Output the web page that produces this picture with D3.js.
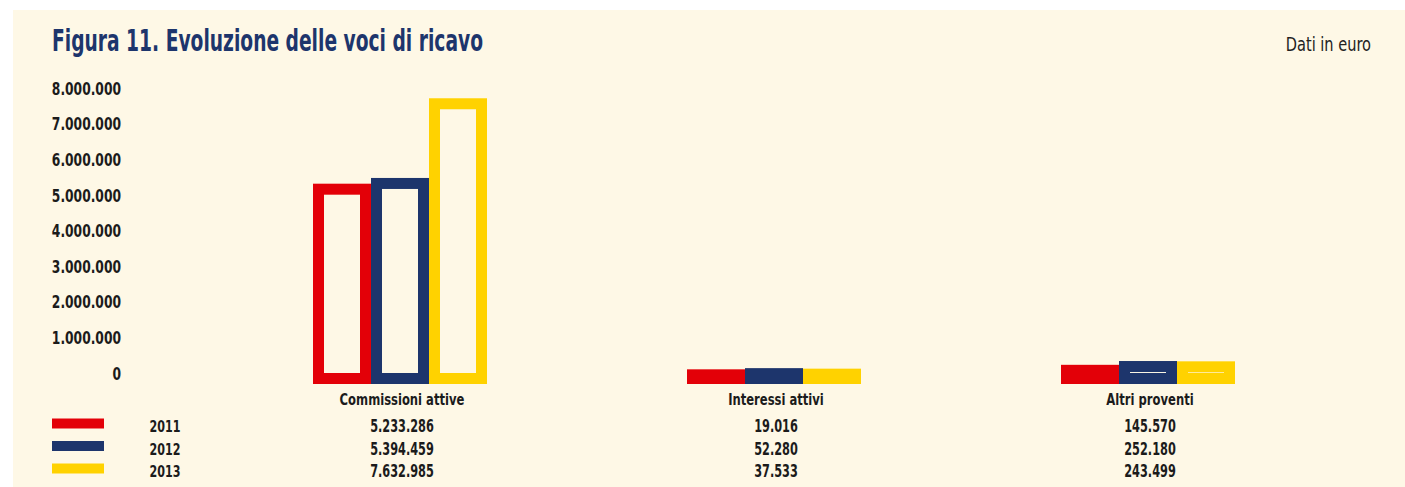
<!DOCTYPE html>
<html>
<head>
<meta charset="utf-8">
<script src="https://cdn.jsdelivr.net/npm/d3@7"></script>
<style>
  html, body { margin: 0; padding: 0; background: #ffffff; }
  svg { display: block; }
  text { font-family: "Liberation Sans Narrow", "DejaVu Sans Condensed", "Arial Narrow", sans-serif; }
</style>
</head>
<body>
<div id="chart"></div>
<script>
// ---- data ----
const categories = ["Commissioni attive", "Interessi attivi", "Altri proventi"];
const years = ["2011", "2012", "2013"];
const values2011 = [5233286, 19016, 145570];
const values2012 = [5394459, 52280, 252180];
const values2013 = [7632985, 37533, 243499];
const yTicks = [0, 1000000, 2000000, 3000000, 4000000, 5000000, 6000000, 7000000, 8000000];
const titleText = "Figura 11. Evoluzione delle voci di ricavo";
const unitText = "Dati in euro";

// ---- setup ----
const W = 1405, H = 487;
const colors = ["#e30008", "#1d356c", "#ffd200"];
const bg = "#fef8e6";
const textCol = "#1b1b1b";
const series = [values2011, values2012, values2013];

const it = d3.formatLocale({ decimal: ",", thousands: ".", grouping: [3], currency: ["€", ""] });
const fmt = it.format(",d");

// squeeze text horizontally to mimic a condensed typeface
function condense(sel, k) {
  sel.each(function () {
    const w = this.getComputedTextLength();
    d3.select(this).attr("textLength", w * k).attr("lengthAdjust", "spacingAndGlyphs");
  });
}

const svg = d3.select("#chart").append("svg").attr("width", W).attr("height", H);
svg.append("rect").attr("x", 13).attr("y", 10).attr("width", W - 13).attr("height", H - 10).attr("fill", bg);

// title
svg.append("text").attr("x", 52).attr("y", 51)
  .attr("font-size", 31).attr("font-weight", "bold").attr("fill", "#1d356c")
  .attr("textLength", 431).attr("lengthAdjust", "spacingAndGlyphs")
  .text(titleText);
svg.append("text").attr("x", 1371).attr("y", 51).attr("text-anchor", "end")
  .attr("font-size", 20).attr("fill", "#222")
  .text(unitText).call(condense, 0.81);

// scales
const y = d3.scaleLinear().domain([0, 8000000]).range([370, 85.2]);
const x = d3.scaleBand().domain(categories).range([213, 1335]).padding(0);
const barW = 58;
const xs = d3.scaleBand().domain(years).range([-barW * 1.5, barW * 1.5]).padding(0);
const baseBottom = y(0) + 14;
const sw = 11;

// y axis labels
svg.append("g").selectAll("text").data(yTicks).join("text")
  .attr("x", 121).attr("y", d => y(d) + 3.5).attr("dy", "0.35em")
  .attr("text-anchor", "end").attr("font-size", 17.5).attr("font-weight", "bold").attr("fill", textCol)
  .text(d => fmt(d)).call(condense, 0.78);

// bars
const bars = [];
categories.forEach((c, ci) => {
  years.forEach((yr, si) => {
    bars.push({ cat: c, year: yr, si, value: series[si][ci] });
  });
});
svg.append("g").selectAll("rect").data(bars).join("rect")
  .attr("x", d => x(d.cat) + x.bandwidth() / 2 + xs(d.year) + sw / 2)
  .attr("width", xs.bandwidth() - sw)
  .attr("y", d => y(d.value) + sw / 2)
  .attr("height", d => Math.max(0.01, baseBottom - y(d.value) - sw))
  .attr("fill", bg)
  .attr("stroke", d => colors[d.si])
  .attr("stroke-width", sw);

// category labels
svg.append("g").selectAll("text").data(categories).join("text")
  .attr("x", d => x(d) + x.bandwidth() / 2 + 2).attr("y", 405)
  .attr("text-anchor", "middle").attr("font-size", 16.5).attr("font-weight", "bold").attr("fill", textCol)
  .text(d => d).call(condense, 0.78);

// table rows
const rowBase = [432, 454.5, 477];
years.forEach((yr, si) => {
  svg.append("rect").attr("x", 52).attr("y", rowBase[si] - 13.5).attr("width", 52).attr("height", 10)
    .attr("fill", colors[si]);
  svg.append("text").attr("x", 165).attr("y", rowBase[si]).attr("text-anchor", "middle")
    .attr("font-size", 16.5).attr("font-weight", "bold").attr("fill", textCol).text(yr).call(condense, 0.75);
  svg.append("g").selectAll("text").data(categories).join("text")
    .attr("x", d => x(d) + x.bandwidth() / 2 + 2).attr("y", rowBase[si])
    .attr("text-anchor", "middle").attr("font-size", 17).attr("font-weight", "bold").attr("fill", textCol)
    .text((d, ci) => fmt(series[si][ci])).call(condense, 0.74);
});
</script>
</body>
</html>
